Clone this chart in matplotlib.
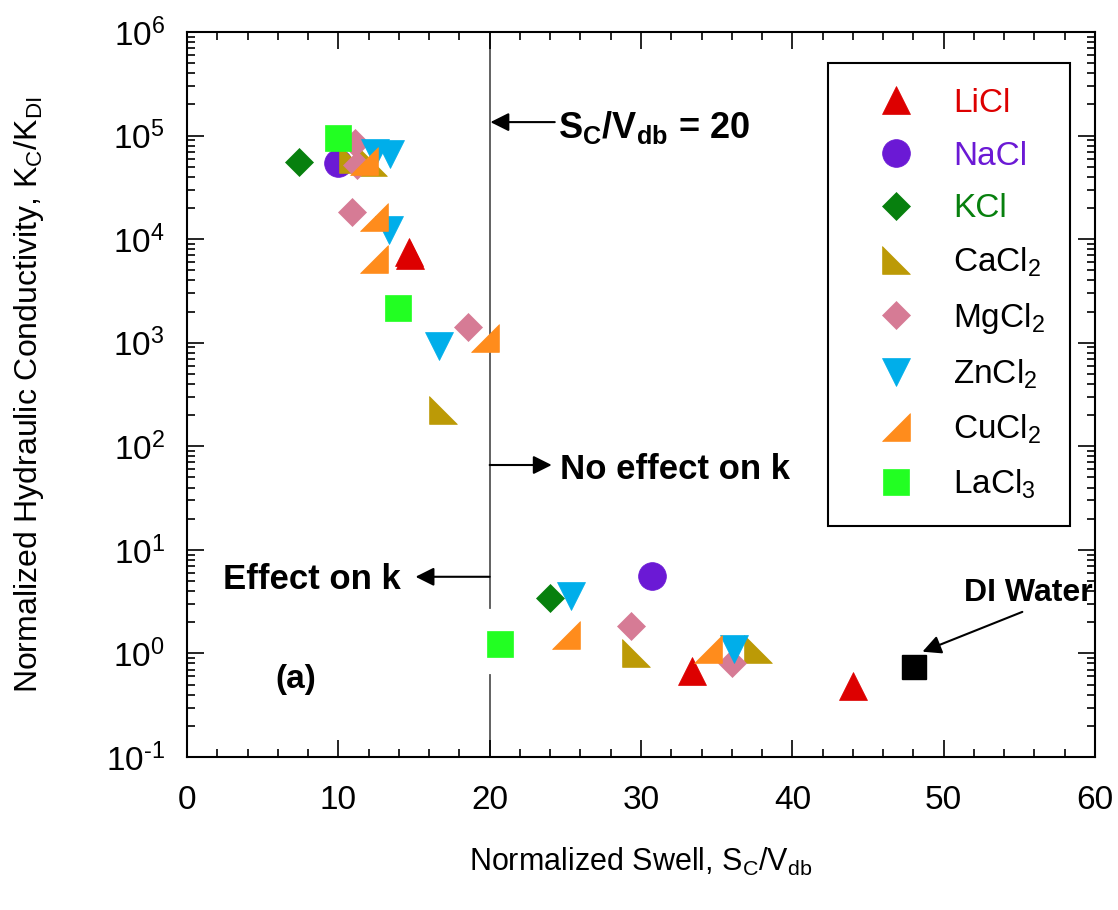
import matplotlib
matplotlib.use('agg')
import matplotlib.pyplot as plt
from matplotlib.ticker import MultipleLocator, LogLocator, NullFormatter, FuncFormatter
import numpy as np

plt.rcParams['font.family'] = 'Liberation Sans'
plt.rcParams['mathtext.fontset'] = 'custom'
plt.rcParams['mathtext.rm'] = 'Liberation Sans'
plt.rcParams['mathtext.it'] = 'Liberation Sans:italic'
plt.rcParams['mathtext.bf'] = 'Liberation Sans:bold'
plt.rcParams['mathtext.default'] = 'regular'
plt.rcParams['axes.unicode_minus'] = False

# data: normalized swell (x) and K_C/K_DI (y)
licl_x = [14.7, 14.75, 33.4, 44.0]
licl_y = [7.6e3, 7.0e3, 0.68, 0.48]
nacl_x = [10.0, 30.7]
nacl_y = [5.4e4, 5.6]
kcl_x = [7.4, 24.0]
kcl_y = [5.6e4, 3.4]
cacl2_x = [11.0, 12.3, 16.9, 29.7, 37.7]
cacl2_y = [6.0e4, 5.5e4, 224, 1.0, 1.1]
mgcl2_x = [11.1, 11.2, 10.9, 18.6, 29.35, 36.0]
mgcl2_y = [8.5e4, 5.2e4, 1.83e4, 1.42e3, 1.85, 0.81]
zncl2_x = [12.4, 13.4, 13.35, 16.65, 25.4, 36.15]
zncl2_y = [6.8e4, 6.7e4, 1.23e4, 930, 3.6, 1.1]
cucl2_x = [11.7, 12.35, 12.35, 19.7, 25.06, 34.4]
cucl2_y = [5.7e4, 1.64e4, 6.4e3, 1.12e3, 1.5, 1.1]
lacl3_x = [10.0, 13.95, 20.7]
lacl3_y = [9.5e4, 2.17e3, 1.24]
di_x = [48.05]
di_y = [0.74]

# right-angle triangle markers
tri_left = [(-1, 1), (-1, -1), (1, -1), (-1, 1)]
tri_right = [(-1, -1), (1, -1), (1, 1), (-1, -1)]


def pow10(v, pos):
    e = int(round(np.log10(v)))
    s = str(e).replace('-', r'\text{-}')
    return r'$10^{%s}$' % s


fig = plt.figure(figsize=(11.18, 9.10), dpi=100)
ax = fig.add_axes([0.1673, 0.1681, 0.8121, 0.7967])

series = [
    (licl_x, licl_y, '^', 20, '#DD0000', 'LiCl'),
    (nacl_x, nacl_y, 'o', 20, '#6B19D5', 'NaCl'),
    (kcl_x, kcl_y, 'D', 14, '#07800E', 'KCl'),
    (cacl2_x, cacl2_y, tri_left, 20, '#BC9A06', 'CaCl$_2$'),
    (mgcl2_x, mgcl2_y, 'D', 14, '#D67B95', 'MgCl$_2$'),
    (zncl2_x, zncl2_y, 'v', 20, '#00AEEA', 'ZnCl$_2$'),
    (cucl2_x, cucl2_y, tri_right, 20, '#FF8C1C', 'CuCl$_2$'),
    (lacl3_x, lacl3_y, 's', 19, '#22FF22', 'LaCl$_3$'),
]

handles = []
for x, y, m, ms, c, lab in series:
    h, = ax.plot(x, y, linestyle='none', marker=m, markersize=ms,
                 color=c, markeredgecolor=c, markeredgewidth=0.5, label=lab)
    handles.append(h)
ax.plot(di_x, di_y, linestyle='none', marker='s', markersize=17, color='black')

# S_C/V_db = 20 divider
ax.plot([20, 20], [1e6, 2.75], color='#555555', lw=1.3, zorder=1)
ax.plot([20, 20], [0.62, 0.1], color='#555555', lw=1.3, zorder=1)

ax.set_xlim(0, 60)
ax.set_yscale('log')
ax.set_ylim(0.1, 1e6)
ax.xaxis.set_major_locator(MultipleLocator(10))
ax.xaxis.set_minor_locator(MultipleLocator(2))
ax.yaxis.set_major_locator(LogLocator(base=10, numticks=10))
ax.yaxis.set_minor_locator(LogLocator(base=10, subs=range(2, 10), numticks=10))
ax.yaxis.set_major_formatter(FuncFormatter(pow10))
ax.yaxis.set_minor_formatter(NullFormatter())

ax.tick_params(which='both', direction='in', top=True, right=True, width=1.2, labelsize=24)
ax.tick_params(which='major', length=12)
ax.tick_params(which='minor', length=6)
ax.tick_params(axis='x', pad=20)
ax.tick_params(axis='y', pad=16)
for s in ax.spines.values():
    s.set_linewidth(1.5)

ax.set_xlabel('Normalized Swell, S$_C$/V$_{db}$', fontsize=22)
ax.set_ylabel('Normalized Hydraulic Conductivity, K$_C$/K$_{DI}$', fontsize=23)
ax.xaxis.set_label_coords(0.5, -0.122)
ax.yaxis.set_label_coords(-0.155, 0.5)

arrow = dict(arrowstyle='-|>', color='black', lw=1.5, mutation_scale=28, shrinkA=0, shrinkB=0)
ax.annotate('', xy=(20.05, 1.35e5), xytext=(24.3, 1.35e5), arrowprops=arrow)
ax.text(24.5, 1.2e5, r'$\mathbf{S_C/V_{db}}$ = 20', fontsize=26, fontweight='bold', va='center')
ax.annotate('', xy=(24.1, 66), xytext=(20.0, 66), arrowprops=arrow)
ax.text(24.65, 60, 'No effect on k', fontsize=25, fontweight='bold', va='center')
ax.annotate('', xy=(15.1, 5.5), xytext=(20.0, 5.5), arrowprops=arrow)
ax.text(14.1, 5.2, 'Effect on k', fontsize=25, fontweight='bold', va='center', ha='right')
ax.annotate('', xy=(48.6, 1.04), xytext=(55.2, 2.52), arrowprops=arrow)
ax.text(55.6, 3.85, 'DI Water', fontsize=23, fontweight='bold', va='center', ha='center')
ax.text(7.2, 0.56, '(a)', fontsize=24, fontweight='bold', va='center', ha='center')

leg = ax.legend(handles=handles, loc='upper right', bbox_to_anchor=(0.9725, 0.9572),
                borderaxespad=0, fontsize=24, fancybox=False, edgecolor='black',
                framealpha=1, borderpad=0.75, handlelength=2.55, handletextpad=0.45,
                labelspacing=0.65, numpoints=1)
leg.get_frame().set_linewidth(1.5)
text_colors = ['#DD0000', '#6B19D5', '#07800E']
for t, c in zip(leg.get_texts(), text_colors):
    t.set_color(c)

fig.savefig('out.png', dpi=100)
